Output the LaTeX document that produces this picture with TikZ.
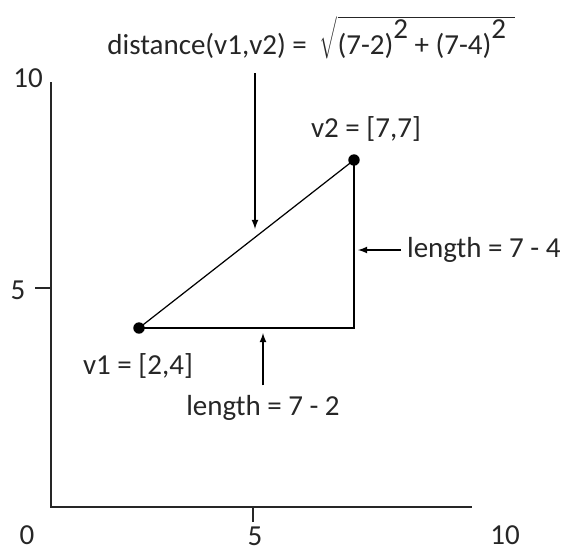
\documentclass[tikz,border=0pt]{standalone}
\usepackage{fontspec}
\setmainfont{Carlito}
\usetikzlibrary{positioning}
\newcommand{\sqpow}{\raisebox{1.1ex}{2}}
\begin{document}
\begin{tikzpicture}[x=0.02cm, y=-0.02cm, font=\fontsize{16.5}{19}\selectfont]
        % Define styles
        \tikzstyle{axis} = [line width=1pt, black!85]
        \tikzstyle{edge} = [line width=0.9pt]
        \tikzstyle{pointer} = [line width=0.8pt, -latex]
        \tikzstyle{vertex} = [circle, fill=black, inner sep=0pt, minimum size=6.5pt]
        \tikzstyle{tag} = [inner sep=1pt, text=black!85]

        \useasboundingbox (0,0) rectangle (561,552);

        % Axes
        \coordinate (origin) at (51,507);
        \coordinate (ytop) at (51,82);
        \coordinate (xend) at (472,507);
        \coordinate (ytick) at (35,288);
        \coordinate (xtick) at (253,522);
        \draw [axis] (ytop) -- (origin) -- (xend);
        \draw [axis] (ytick) -- (ytick -| origin);
        \draw [axis] (xtick) -- (xtick |- origin);
        \node (y10) [tag] at (28,78) {10};
        \node (y5) [tag] at (18,290) {5};
        \node (x0) [tag, inner sep=0pt] at (27,535) {0};
        \node (x5) [tag, inner sep=0pt] at (255,536) {5};
        \node (x10) [tag, inner sep=0pt] at (505,535) {10};

        % Points
        \node (v1) [vertex] at (139,328) {};
        \node (v2) [vertex] at (354,160) {};
        \coordinate (corner) at (354,328);
        \draw [edge, line width=0.7pt] (v1.center) -- (v2.center);
        \draw [edge] (v1.center) -- (corner) -- (v2.center);
        \node (v1lbl) [tag] at (138,366) {v1 = [2,4]};
        \node (v2lbl) [tag] at (366,129) {v2 = [7,7]};

        % Labels
        \node (dist) [tag] at (311,38) {distance(v1,v2) = \ $\sqrt{\mbox{(7-2)\sqpow{} + (7-4)\sqpow}\;}$};
        \node (lenx) [tag] at (263,408) {length = 7 - 2};
        \node (leny) [tag, anchor=west] at (405,250) {length = 7 - 4};
        \coordinate (hitd) at (255,229);
        \coordinate (hitx) at (263,333);
        \coordinate (hity) at (358,250);

        % Arrows
        \draw [pointer] (255,73) -- (hitd);
        \draw [pointer] (hitx |- lenx.north) ++(0,-8) -- (hitx);
        \draw [pointer] (leny.west) ++(-4,0) -- (hity);
    \end{tikzpicture}
\end{document}
